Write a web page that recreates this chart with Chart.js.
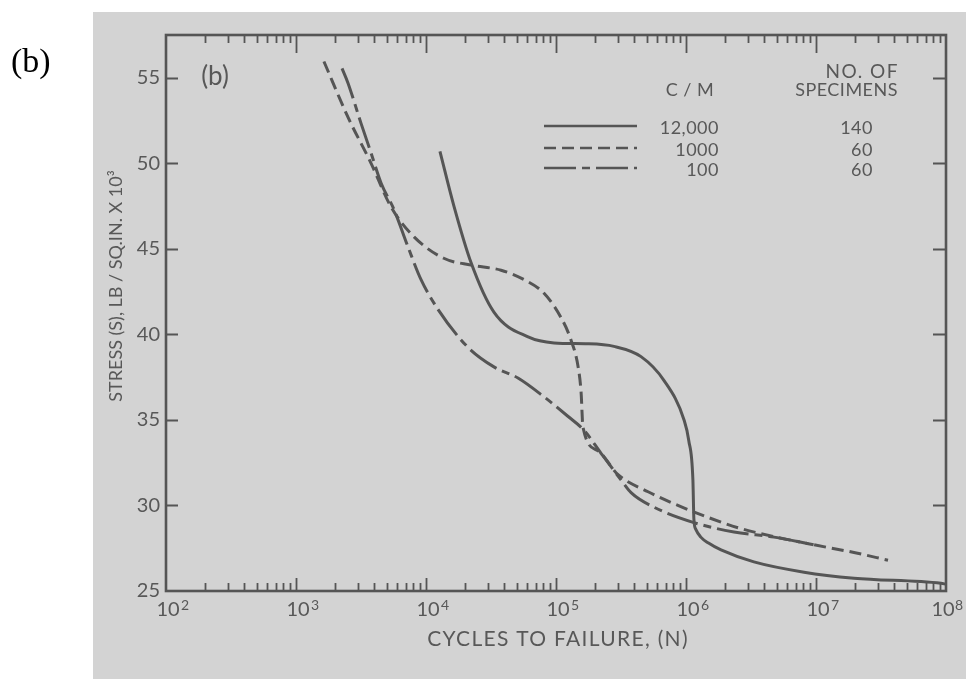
<!DOCTYPE html>
<html>
<head>
<meta charset="utf-8">
<script src="https://cdn.jsdelivr.net/npm/chart.js@4.4.1/dist/chart.umd.min.js"></script>
<style>
  html, body { margin: 0; padding: 0; background: #ffffff; }
  #wrap { width: 966px; height: 679px; position: relative; }
</style>
</head>
<body>
<div id="wrap"><canvas id="c" width="966" height="679"></canvas></div>
<script>
// ---------------- data ----------------
// 12,000 C/M (solid, 140 specimens)
const cycles12000 = [12800, 16400, 22200, 33300, 61000, 96600, 176000, 279000, 451000, 678000, 966000, 1050000, 1130000, 1150000, 1190000, 1300000, 1490000, 1860000, 3330000, 8090000, 19600000, 91600000, 100000000];
const stress12000 = [50.7, 47.5, 44.2, 41.3, 39.85, 39.5, 39.45, 39.3, 38.7, 37.3, 35.0, 33.8, 31.5, 29.2, 28.6, 28.15, 27.8, 27.4, 26.7, 26.1, 25.75, 25.45, 25.4];

// 1000 C/M (dashed, 60 specimens)
const cycles1000 = [1640, 2510, 3780, 5380, 8090, 13700, 22200, 37800, 56800, 80900, 109000, 130000, 148000, 156000, 161000, 210000, 300000, 511000, 867000, 1480000, 2510000, 3780000, 9660000, 19600000, 35800000];
const stress1000 = [55.95, 52.7, 50.0, 47.45, 45.7, 44.45, 44.05, 43.75, 43.2, 42.4, 41.0, 39.7, 38.1, 36.6, 34.6, 33.2, 31.8, 30.8, 30.0, 29.3, 28.7, 28.35, 27.7, 27.25, 26.8];

// 100 C/M (dash-dot, 60 specimens)
const cycles100 = [2260, 2510, 3160, 3780, 4510, 5670, 7280, 9160, 12400, 21000, 33300, 51000, 80900, 124000, 164000, 222000, 316000, 378000, 567000, 1150000, 2340000, 4750000, 9660000];
const stress100 = [55.55, 54.7, 52.35, 50.6, 48.85, 47.3, 45.1, 43.2, 41.45, 39.25, 38.1, 37.45, 36.35, 35.2, 34.4, 33.05, 31.5, 30.75, 29.9, 29.0, 28.45, 28.15, 27.7];

// legend table
const legendRates = ['12,000', '1000', '100'];
const legendSpecimens = ['140', '60', '60'];

// axes
const xTickExponents = [2, 3, 4, 5, 6, 7, 8];
const yTickValues = [25, 30, 35, 40, 45, 50, 55];
const xTitle = 'CYCLES TO FAILURE, (N)';
const yTitle = 'STRESS (S), LB / SQ.IN. X 10\u00B3';
const panelLabel = '(b)';

// ---------------- styling ----------------
const INK = '#555555';
const TXT = '#585858';
const BG = '#d3d3d3';
const FONT = 'Lato, "Open Sans", "DejaVu Sans", sans-serif';
const DASHED = [12, 6];
const DASHDOT = [32, 6, 8, 6];

function pts(xs, ys) { return xs.map((x, i) => ({ x: x, y: ys[i] })); }

const decor = {
  id: 'decor',
  beforeDraw(chart) {
    const ctx = chart.ctx;
    ctx.save();
    ctx.fillStyle = '#ffffff';
    ctx.fillRect(0, 0, chart.width, chart.height);
    ctx.fillStyle = BG;
    ctx.fillRect(93, 12, chart.width - 93, chart.height - 12);
    ctx.restore();
  },
  afterDatasetsDraw(chart) {
    const { ctx, chartArea: a, scales } = chart;
    const xs = scales.x, ys = scales.y;
    ctx.save();
    ctx.strokeStyle = INK;
    ctx.lineCap = 'butt';
    // frame
    ctx.lineWidth = 2.6;
    ctx.strokeRect(a.left, a.top, a.right - a.left, a.bottom - a.top);
    // x ticks (major + minor), bottom and top, pointing inward
    ctx.lineWidth = 1.8;
    const e0 = xTickExponents[0], e1 = xTickExponents[xTickExponents.length - 1];
    for (let e = e0; e <= e1; e++) {
      for (let m = 1; m <= 9; m++) {
        if (e === e1 && m > 1) break;
        if ((e === e0 || e === e1) && m === 1) continue;
        const v = m * Math.pow(10, e);
        const px = Math.round(xs.getPixelForValue(v)) + 0.5;
        const major = m === 1;
        ctx.beginPath();
        ctx.moveTo(px, a.bottom);
        ctx.lineTo(px, a.bottom - (major ? 13 : 8));
        ctx.moveTo(px, a.top);
        ctx.lineTo(px, a.top + (major ? 18 : 8));
        ctx.stroke();
      }
    }
    // y ticks left and right
    yTickValues.forEach(v => {
      if (v === yTickValues[0]) return;
      const py = Math.round(ys.getPixelForValue(v)) + 0.5;
      ctx.beginPath();
      ctx.moveTo(a.left, py); ctx.lineTo(a.left + 12, py);
      ctx.moveTo(a.right, py); ctx.lineTo(a.right - 13, py);
      ctx.stroke();
    });
    ctx.restore();
  },
  afterDraw(chart) {
    const { ctx, chartArea: a, scales } = chart;
    ctx.save();
    ctx.fillStyle = TXT;
    // exponents of the x tick labels (10^n)
    ctx.font = '14px ' + FONT;
    ctx.textAlign = 'left';
    ctx.textBaseline = 'top';
    xTickExponents.forEach((e, i) => {
      const px = scales.x.getPixelForValue(Math.pow(10, e));
      const last = i === xTickExponents.length - 1;
      ctx.fillText(String(e), px + (last ? 9 : 15), a.bottom + 7);
    });
    // axis titles
    ctx.font = '21px ' + FONT;
    ctx.letterSpacing = '1.3px';
    ctx.textAlign = 'center';
    ctx.textBaseline = 'middle';
    ctx.fillText(xTitle, 558, 639);
    ctx.letterSpacing = '0px';
    ctx.save();
    ctx.translate(116, 286);
    ctx.rotate(-Math.PI / 2);
    ctx.font = '18px ' + FONT;
    ctx.fillText(yTitle, 0, 0);
    ctx.restore();
    // panel label inside plot
    ctx.font = '26px ' + FONT;
    ctx.textAlign = 'center';
    ctx.fillText(panelLabel, 215, 77);
    // legend table
    ctx.font = '18px ' + FONT;
    ctx.letterSpacing = '0.5px';
    ctx.textAlign = 'center';
    ctx.fillText('C / M', 690, 90);
    ctx.textAlign = 'right';
    ctx.fillText('SPECIMENS', 898, 90);
    ctx.font = '19px ' + FONT;
    ctx.letterSpacing = '1.5px';
    ctx.fillText('NO. OF', 899, 72);
    ctx.font = '18px ' + FONT;
    ctx.letterSpacing = '0.5px';
    const rowY = [126, 148, 168];
    const dashes = [[], DASHED, DASHDOT];
    for (let i = 0; i < legendRates.length; i++) {
      ctx.save();
      ctx.strokeStyle = INK;
      ctx.lineWidth = 2.6;
      ctx.setLineDash(dashes[i]);
      ctx.beginPath();
      ctx.moveTo(544, rowY[i]); ctx.lineTo(637, rowY[i]);
      ctx.stroke();
      ctx.restore();
      ctx.textAlign = 'right';
      ctx.fillText(legendRates[i], 719, rowY[i] + 2);
      ctx.fillText(legendSpecimens[i], 873, rowY[i] + 2);
    }
    ctx.letterSpacing = '0px';
    // outer figure label
    ctx.fillStyle = '#000000';
    ctx.font = '34px "Liberation Serif", "DejaVu Serif", serif';
    ctx.textAlign = 'left';
    ctx.textBaseline = 'alphabetic';
    ctx.fillText(panelLabel, 11, 72);
    ctx.restore();
  }
};

const ds = (label, xs, ys, dash) => ({
  label: label,
  data: pts(xs, ys),
  borderColor: INK,
  borderWidth: 3,
  borderDash: dash,
  pointRadius: 0,
  fill: false,
  cubicInterpolationMode: 'monotone',
  borderCapStyle: 'butt'
});

new Chart(document.getElementById('c'), {
  type: 'line',
  data: {
    datasets: [
      ds(legendRates[0] + ' C/M', cycles12000, stress12000, []),
      ds(legendRates[1] + ' C/M', cycles1000, stress1000, DASHED),
      ds(legendRates[2] + ' C/M', cycles100, stress100, DASHDOT)
    ]
  },
  options: {
    responsive: false,
    devicePixelRatio: 1,
    animation: false,
    layout: { padding: { left: 0, top: 35, right: 20, bottom: 0 } },
    plugins: { legend: { display: false }, tooltip: { enabled: false } },
    scales: {
      x: {
        type: 'logarithmic',
        min: 100,
        max: 100000000,
        grid: { display: false, drawTicks: false },
        border: { display: false },
        afterBuildTicks: s => { s.ticks = xTickExponents.map(e => ({ value: Math.pow(10, e) })); },
        afterFit: s => { s.height = 88; s.paddingLeft = 0; s.paddingRight = 0; },
        ticks: {
          autoSkip: false,
          maxRotation: 0,
          padding: 7,
          labelOffset: 2,
          color: TXT,
          font: { family: FONT, size: 20 },
          callback: (v, i, t) => (i === t.length - 1 ? '10\u2002' : '10')
        }
      },
      y: {
        type: 'linear',
        min: 25,
        max: 57.5,
        grid: { display: false, drawTicks: false },
        border: { display: false },
        afterBuildTicks: s => { s.ticks = yTickValues.map(v => ({ value: v })); },
        afterFit: s => { s.width = 166; s.paddingTop = 0; s.paddingBottom = 0; },
        ticks: {
          autoSkip: false,
          padding: 6,
          color: TXT,
          font: { family: FONT, size: 20 },
          callback: v => String(v)
        }
      }
    }
  },
  plugins: [decor]
});
</script>
</body>
</html>
